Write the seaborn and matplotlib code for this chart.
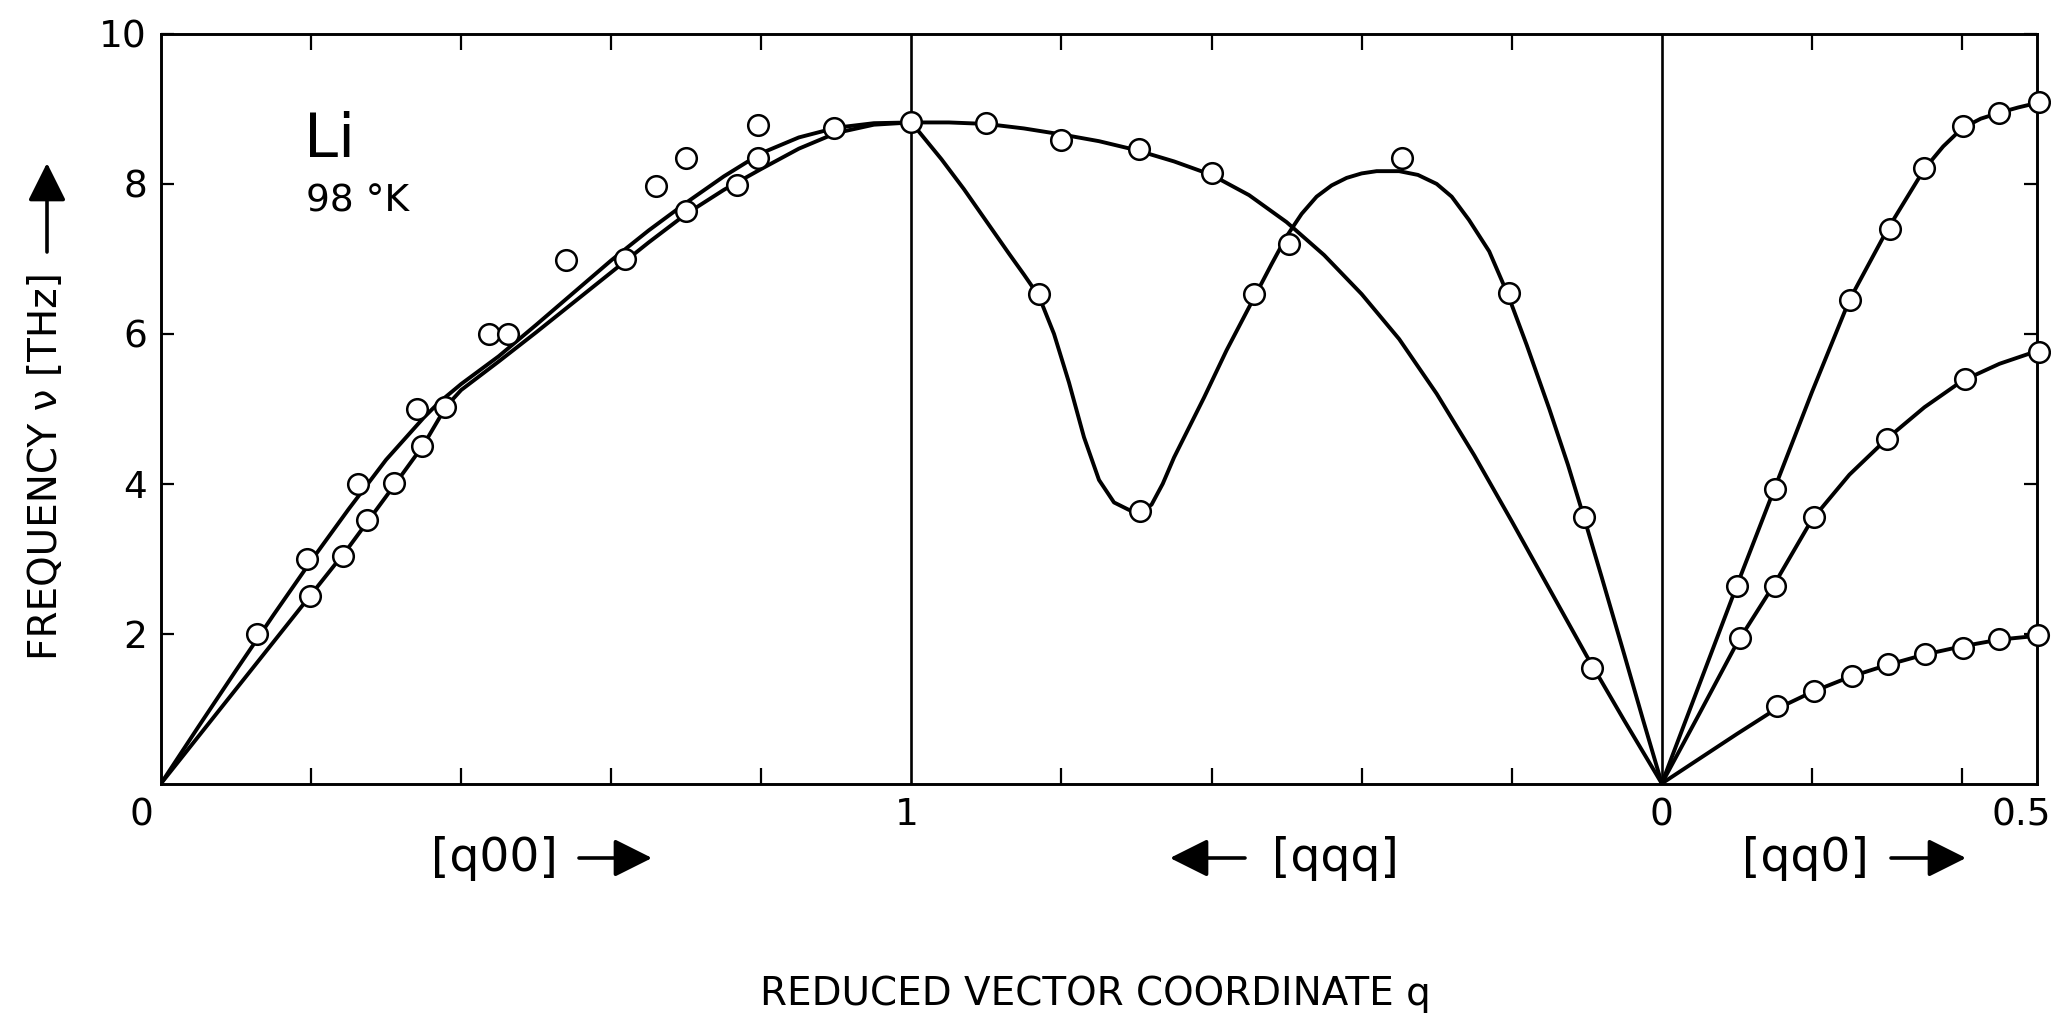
import numpy as np
import pandas as pd
import matplotlib
matplotlib.use("Agg")
import matplotlib.pyplot as plt
import seaborn as sns
from matplotlib.transforms import ScaledTranslation

# ---------------- data ----------------
# [q00] direction, q = 0 ... 1
q00_upper_curve_q = [0, 0.05, 0.10, 0.15, 0.20, 0.25, 0.30, 0.35, 0.37, 0.40, 0.45, 0.50,
                     0.55, 0.60, 0.65, 0.70, 0.75, 0.80, 0.85, 0.90, 0.95, 1.0]
q00_upper_curve_v = [0, 0.76, 1.51, 2.25, 2.97, 3.66, 4.32, 4.88, 5.08, 5.33, 5.70, 6.12,
                     6.55, 6.98, 7.38, 7.75, 8.10, 8.41, 8.62, 8.75, 8.81, 8.82]
q00_lower_curve_q = [0, 0.05, 0.10, 0.15, 0.20, 0.25, 0.30, 0.35, 0.38, 0.40, 0.45, 0.50,
                     0.55, 0.60, 0.65, 0.70, 0.75, 0.80, 0.85, 0.90, 0.95, 1.0]
q00_lower_curve_v = [0, 0.63, 1.26, 1.89, 2.52, 3.15, 3.83, 4.52, 5.03, 5.25, 5.63, 6.02,
                     6.42, 6.82, 7.22, 7.60, 7.92, 8.20, 8.47, 8.68, 8.79, 8.82]
q00_upper_pts_q = [0.128, 0.195, 0.262, 0.341, 0.437, 0.463, 0.540, 0.659, 0.700, 0.795, 0.897, 1.0]
q00_upper_pts_v = [1.99, 3.00, 4.00, 5.00, 6.00, 6.00, 6.99, 7.97, 8.34, 8.78, 8.75, 8.82]
q00_lower_pts_q = [0.199, 0.242, 0.274, 0.311, 0.348, 0.379, 0.619, 0.699, 0.768, 0.796]
q00_lower_pts_v = [2.50, 3.04, 3.52, 4.01, 4.50, 5.02, 7.00, 7.64, 7.99, 8.34]

# [qqq] direction, q = 1 ... 0 (drawn right to left)
qqq_dome_curve_q = [1.0, 0.95, 0.9, 0.85, 0.8, 0.75, 0.7, 0.65, 0.6, 0.55, 0.5, 0.45, 0.4,
                    0.35, 0.3, 0.25, 0.2, 0.15, 0.1, 0.05, 0.0]
qqq_dome_curve_v = [8.82, 8.82, 8.80, 8.74, 8.66, 8.57, 8.45, 8.30, 8.12, 7.85, 7.49, 7.05,
                    6.53, 5.93, 5.20, 4.38, 3.50, 2.60, 1.70, 0.84, 0.0]
qqq_dip_curve_q = [1.0, 0.96, 0.93, 0.90, 0.87, 0.85, 0.83, 0.81, 0.79, 0.77, 0.75, 0.73,
                   0.71, 0.695, 0.68, 0.665, 0.65, 0.63, 0.61, 0.58, 0.544, 0.52, 0.50,
                   0.48, 0.46, 0.44, 0.42, 0.40, 0.38, 0.35, 0.325, 0.30, 0.28, 0.257,
                   0.23, 0.205, 0.18, 0.15, 0.125, 0.104, 0.08, 0.05, 0.025, 0.0]
qqq_dip_curve_v = [8.82, 8.33, 7.93, 7.50, 7.07, 6.79, 6.50, 6.00, 5.35, 4.62, 4.05, 3.75,
                   3.65, 3.63, 3.72, 4.00, 4.35, 4.75, 5.15, 5.78, 6.47, 6.93, 7.30,
                   7.60, 7.83, 7.98, 8.08, 8.14, 8.17, 8.17, 8.12, 8.00, 7.83, 7.52,
                   7.10, 6.52, 5.85, 5.00, 4.25, 3.56, 2.75, 1.72, 0.85, 0.0]
qqq_dome_pts_q = [0.9, 0.8, 0.697, 0.6, 0.093]
qqq_dome_pts_v = [8.81, 8.59, 8.46, 8.14, 1.54]
qqq_dip_pts_q = [0.83, 0.695, 0.544, 0.497, 0.346, 0.204, 0.104]
qqq_dip_pts_v = [6.53, 3.63, 6.53, 7.20, 8.35, 6.54, 3.56]

# [qq0] direction, q = 0 ... 0.5
qq0_top_curve_q = [0, 0.05, 0.10, 0.15, 0.20, 0.25, 0.30, 0.35, 0.375, 0.40, 0.425, 0.45, 0.475, 0.50]
qq0_top_curve_v = [0, 1.32, 2.64, 3.93, 5.22, 6.45, 7.38, 8.20, 8.50, 8.74, 8.87, 8.95, 9.02, 9.08]
qq0_mid_curve_q = [0, 0.05, 0.10, 0.15, 0.20, 0.25, 0.30, 0.35, 0.40, 0.45, 0.50]
qq0_mid_curve_v = [0, 0.93, 1.87, 2.66, 3.52, 4.12, 4.60, 5.02, 5.37, 5.60, 5.77]
qq0_low_curve_q = [0, 0.05, 0.10, 0.15, 0.20, 0.25, 0.30, 0.35, 0.40, 0.45, 0.50]
qq0_low_curve_v = [0, 0.33, 0.66, 0.98, 1.22, 1.42, 1.58, 1.72, 1.83, 1.92, 1.97]
qq0_top_pts_q = [0.100, 0.151, 0.251, 0.304, 0.350, 0.401, 0.449, 0.502]
qq0_top_pts_v = [2.64, 3.93, 6.45, 7.40, 8.21, 8.77, 8.95, 9.09]
qq0_mid_pts_q = [0.104, 0.151, 0.203, 0.300, 0.404, 0.502]
qq0_mid_pts_v = [1.94, 2.64, 3.55, 4.60, 5.40, 5.76]
qq0_low_pts_q = [0.154, 0.203, 0.253, 0.301, 0.351, 0.401, 0.449, 0.501]
qq0_low_pts_v = [1.04, 1.23, 1.44, 1.59, 1.73, 1.81, 1.93, 1.98]

x_tick_pos = [0, 1, 2, 2.5]
x_tick_labels = ["0", "1", "0", "0.5"]
x_minor_pos = [0.2, 0.4, 0.6, 0.8, 1.2, 1.4, 1.6, 1.8, 2.2, 2.4]
y_tick_pos = [2, 4, 6, 8, 10]
y_tick_labels = ["2", "4", "6", "8", "10"]


def to_path(panel, q):
    q = np.asarray(q, dtype=float)
    if panel == "q00":
        return q
    if panel == "qqq":
        return 2.0 - q
    return 2.0 + q


curve_specs = [
    ("q00", "q00 upper", q00_upper_curve_q, q00_upper_curve_v),
    ("q00", "q00 lower", q00_lower_curve_q, q00_lower_curve_v),
    ("qqq", "qqq dome", qqq_dome_curve_q, qqq_dome_curve_v),
    ("qqq", "qqq dip", qqq_dip_curve_q, qqq_dip_curve_v),
    ("qq0", "qq0 top", qq0_top_curve_q, qq0_top_curve_v),
    ("qq0", "qq0 mid", qq0_mid_curve_q, qq0_mid_curve_v),
    ("qq0", "qq0 low", qq0_low_curve_q, qq0_low_curve_v),
]
point_specs = [
    ("q00", q00_upper_pts_q, q00_upper_pts_v),
    ("q00", q00_lower_pts_q, q00_lower_pts_v),
    ("qqq", qqq_dome_pts_q, qqq_dome_pts_v),
    ("qqq", qqq_dip_pts_q, qqq_dip_pts_v),
    ("qq0", qq0_top_pts_q, qq0_top_pts_v),
    ("qq0", qq0_mid_pts_q, qq0_mid_pts_v),
    ("qq0", qq0_low_pts_q, qq0_low_pts_v),
]

df_curves = pd.concat(
    [pd.DataFrame({"s": to_path(p, q), "v": v, "branch": name}) for p, name, q, v in curve_specs],
    ignore_index=True)
df_pts = pd.concat(
    [pd.DataFrame({"s": to_path(p, q), "v": v}) for p, q, v in point_specs],
    ignore_index=True)

# ---------------- style ----------------
sns.set_style("white")
plt.rcParams["font.family"] = ["DejaVu Sans"]
plt.rcParams["text.color"] = "black"
plt.rcParams["axes.labelcolor"] = "black"
plt.rcParams["xtick.color"] = "black"
plt.rcParams["ytick.color"] = "black"

W, H = 2051, 1013
fig = plt.figure(figsize=(W / 100, H / 100), dpi=100, facecolor="white")
ax = fig.add_axes([161 / W, (H - 783.5) / H, 1876 / W, 749.5 / H])
ax.set_facecolor("white")

sns.lineplot(data=df_curves, x="s", y="v", units="branch", estimator=None, sort=False,
             color="black", linewidth=2.8, ax=ax, legend=False, zorder=2)
sns.scatterplot(data=df_pts, x="s", y="v", ax=ax, s=220, color="white",
                edgecolor="black", linewidth=1.8, zorder=4, legend=False, clip_on=False)

ax.axvline(1, color="black", lw=1.9, zorder=1)
ax.axvline(2, color="black", lw=1.9, zorder=1)

ax.set_xlim(0, 2.5)
ax.set_ylim(0, 10)
ax.set_xlabel("")
ax.set_ylabel("")

ax.set_xticks(x_tick_pos)
ax.set_xticklabels(x_tick_labels)
ax.set_xticks(x_minor_pos, minor=True)
ax.tick_params(axis="x", which="major", length=0, pad=10, labelsize=27, labelcolor="black")
ax.tick_params(axis="x", which="minor", direction="in", top=True, bottom=True,
               length=11.5, width=1.6, color="black")
ax.set_yticks(y_tick_pos)
ax.set_yticklabels(y_tick_labels)
ax.tick_params(axis="y", which="major", direction="in", left=True, right=True,
               length=9.5, width=1.6, labelsize=27, pad=10, color="black", labelcolor="black")

for sp in ax.spines.values():
    sp.set_linewidth(2.1)
    sp.set_color("black")

# shift some x tick labels like in the original
offsets_px = [-20, -5, 0, -16]
for lab, dx in zip(ax.get_xticklabels(), offsets_px):
    lab.set_transform(lab.get_transform() + ScaledTranslation(dx / 100, 0, fig.dpi_scale_trans))

# texts inside
ax.text(0.0762, 0.836, "Li", transform=ax.transAxes, fontsize=44, ha="left", va="baseline")
ax.text(0.0773, 0.763, "98 °K", transform=ax.transAxes, fontsize=27, ha="left", va="baseline")

# axis labels
fig.text(1095 / W, 8 / H, "REDUCED VECTOR COORDINATE q", ha="center", va="baseline", fontsize=28)
fig.text(46 / W, 1 - 466 / H, "FREQUENCY ν [THz]", rotation=90, ha="center", va="center",
         fontsize=28)

arrow_kw = dict(arrowstyle="-|>,head_length=0.9,head_width=0.45", color="black", lw=2.6,
                mutation_scale=26, shrinkA=0, shrinkB=0)
# y-label arrow
ax.annotate("", xy=(47, H - 163), xytext=(47, H - 252), xycoords="figure pixels",
            textcoords="figure pixels", arrowprops=arrow_kw, annotation_clip=False)

# direction labels
dir_y = 1 - 858 / H
fig.text(494 / W, dir_y, "[q00]", ha="center", va="center", fontsize=34)
fig.text(1335 / W, dir_y, "[qqq]", ha="center", va="center", fontsize=34)
fig.text(1805 / W, dir_y, "[qq0]", ha="center", va="center", fontsize=34)
ax.annotate("", xy=(652, H - 858), xytext=(579, H - 858), xycoords="figure pixels",
            textcoords="figure pixels", arrowprops=arrow_kw, annotation_clip=False)
ax.annotate("", xy=(1170, H - 858), xytext=(1245, H - 858), xycoords="figure pixels",
            textcoords="figure pixels", arrowprops=arrow_kw, annotation_clip=False)
ax.annotate("", xy=(1966, H - 858), xytext=(1891, H - 858), xycoords="figure pixels",
            textcoords="figure pixels", arrowprops=arrow_kw, annotation_clip=False)

fig.savefig("out.png", dpi=100, facecolor="white")
